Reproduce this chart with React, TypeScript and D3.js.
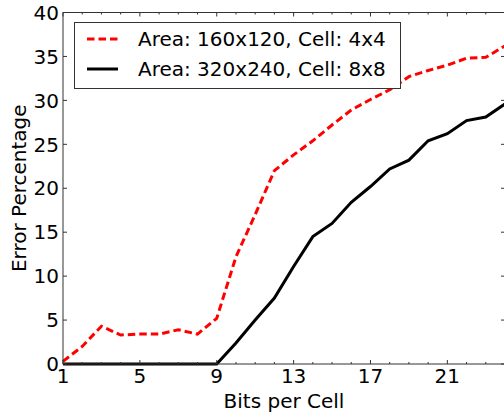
import { useEffect, useRef } from 'react';
import * as d3 from 'd3';

const width = 504;
const height = 415;

// bits per cell on the x axis
const bitsPerCell = [1, 2, 3, 4, 5, 6, 7, 8, 9, 10, 11, 12, 13, 14, 15, 16, 17, 18, 19, 20, 21, 22, 23, 24];
// error percentage, area 160x120, cell 4x4
const smallAreaError = [0.3, 2.0, 4.3, 3.3, 3.4, 3.4, 3.9, 3.4, 5.2, 12.2, 17.0, 22.0, 23.8, 25.4, 27.2, 28.9, 30.1, 31.2, 32.7, 33.4, 34.0, 34.8, 34.9, 36.2];
// error percentage, area 320x240, cell 8x8
const largeAreaError = [0, 0, 0, 0, 0, 0, 0, 0, 0, 2.4, 5.0, 7.5, 11.1, 14.5, 16.0, 18.4, 20.2, 22.2, 23.2, 25.4, 26.2, 27.7, 28.1, 29.6];

const xTicks = [1, 5, 9, 13, 17, 21];
const yTicks = [0, 5, 10, 15, 20, 25, 30, 35, 40];
const legendLabels = ['Area: 160x120, Cell: 4x4', 'Area: 320x240, Cell: 8x8'];

const font = 'DejaVu Sans';

const ErrorChart = () => {
  const ref = useRef<SVGSVGElement>(null);

  useEffect(() => {
    const svg = d3.select(ref.current);
    svg.selectAll('*').remove();

    const left = 63;
    const right = 505;
    const top = 12.5;
    const bottom = 364;

    const x = d3.scaleLinear().domain([1, 24]).range([left, right]);
    const y = d3.scaleLinear().domain([0, 40]).range([bottom, top]);

    svg.append('rect')
      .attr('width', width)
      .attr('height', height)
      .attr('fill', 'white');

    const g = svg.append('g');

    // lines
    const line = d3.line<number>()
      .x((d, i) => x(bitsPerCell[i]))
      .y((d) => y(d));

    g.append('path')
      .datum(largeAreaError)
      .attr('fill', 'none')
      .attr('stroke', 'black')
      .attr('stroke-width', 3)
      .attr('d', line);

    g.append('path')
      .datum(smallAreaError)
      .attr('fill', 'none')
      .attr('stroke', '#ff0000')
      .attr('stroke-width', 3)
      .attr('stroke-dasharray', '7.5,4')
      .attr('d', line);

    // spines
    const spineColor = '#333';
    g.append('rect')
      .attr('x', left)
      .attr('y', top)
      .attr('width', right - left)
      .attr('height', bottom - top)
      .attr('fill', 'none')
      .attr('stroke', spineColor)
      .attr('stroke-width', 1);

    // ticks, pointing inward on all four sides
    const minorX = d3.range(1, 25).filter((v) => !xTicks.includes(v));
    const ticks = g.append('g').attr('stroke', spineColor).attr('stroke-width', 1);
    xTicks.forEach((v) => {
      ticks.append('line').attr('x1', x(v)).attr('x2', x(v)).attr('y1', bottom).attr('y2', bottom - 4);
      ticks.append('line').attr('x1', x(v)).attr('x2', x(v)).attr('y1', top).attr('y2', top + 4);
    });
    minorX.forEach((v) => {
      ticks.append('line').attr('x1', x(v)).attr('x2', x(v)).attr('y1', bottom).attr('y2', bottom - 2);
      ticks.append('line').attr('x1', x(v)).attr('x2', x(v)).attr('y1', top).attr('y2', top + 2);
    });
    yTicks.forEach((v) => {
      ticks.append('line').attr('x1', left).attr('x2', left + 4).attr('y1', y(v)).attr('y2', y(v));
      ticks.append('line').attr('x1', right - 4).attr('x2', right).attr('y1', y(v)).attr('y2', y(v));
    });

    // tick labels
    g.append('g')
      .selectAll('text')
      .data(xTicks)
      .join('text')
      .attr('x', (d) => x(d))
      .attr('y', 383)
      .attr('text-anchor', 'middle')
      .attr('font-family', font)
      .attr('font-size', 20)
      .text((d) => d);

    g.append('g')
      .selectAll('text')
      .data(yTicks)
      .join('text')
      .attr('x', 59)
      .attr('y', (d) => y(d))
      .attr('dy', '0.36em')
      .attr('text-anchor', 'end')
      .attr('font-family', font)
      .attr('font-size', 20)
      .text((d) => d);

    // axis titles
    g.append('text')
      .attr('x', (left + right) / 2)
      .attr('y', 408)
      .attr('text-anchor', 'middle')
      .attr('font-family', font)
      .attr('font-size', 20)
      .text('Bits per Cell');

    g.append('text')
      .attr('transform', `translate(26, ${(top + bottom) / 2}) rotate(-90)`)
      .attr('text-anchor', 'middle')
      .attr('font-family', font)
      .attr('font-size', 20)
      .text('Error Percentage');

    // legend
    const legend = g.append('g');
    legend.append('rect')
      .attr('x', 74.5)
      .attr('y', 22.5)
      .attr('width', 326)
      .attr('height', 66)
      .attr('fill', 'white')
      .attr('stroke', spineColor)
      .attr('stroke-width', 1);

    const legendStyles = [
      { stroke: '#ff0000', dash: '7.5,4' },
      { stroke: 'black', dash: null },
    ];
    legendLabels.forEach((label, i) => {
      const ly = 39 + i * 30;
      legend.append('line')
        .attr('x1', 87)
        .attr('x2', 118)
        .attr('y1', ly)
        .attr('y2', ly)
        .attr('stroke', legendStyles[i].stroke)
        .attr('stroke-width', 3)
        .attr('stroke-dasharray', legendStyles[i].dash);
      legend.append('text')
        .attr('x', 138)
        .attr('y', ly)
        .attr('dy', '0.36em')
        .attr('font-family', font)
        .attr('font-size', 20)
        .text(label);
    });
  }, []);

  return (
    <svg
      ref={ref}
      width={width}
      height={height}
      style={{ position: 'absolute', left: 0, top: 0 }}
    />
  );
};

export default function App() {
  return <ErrorChart />;
}
